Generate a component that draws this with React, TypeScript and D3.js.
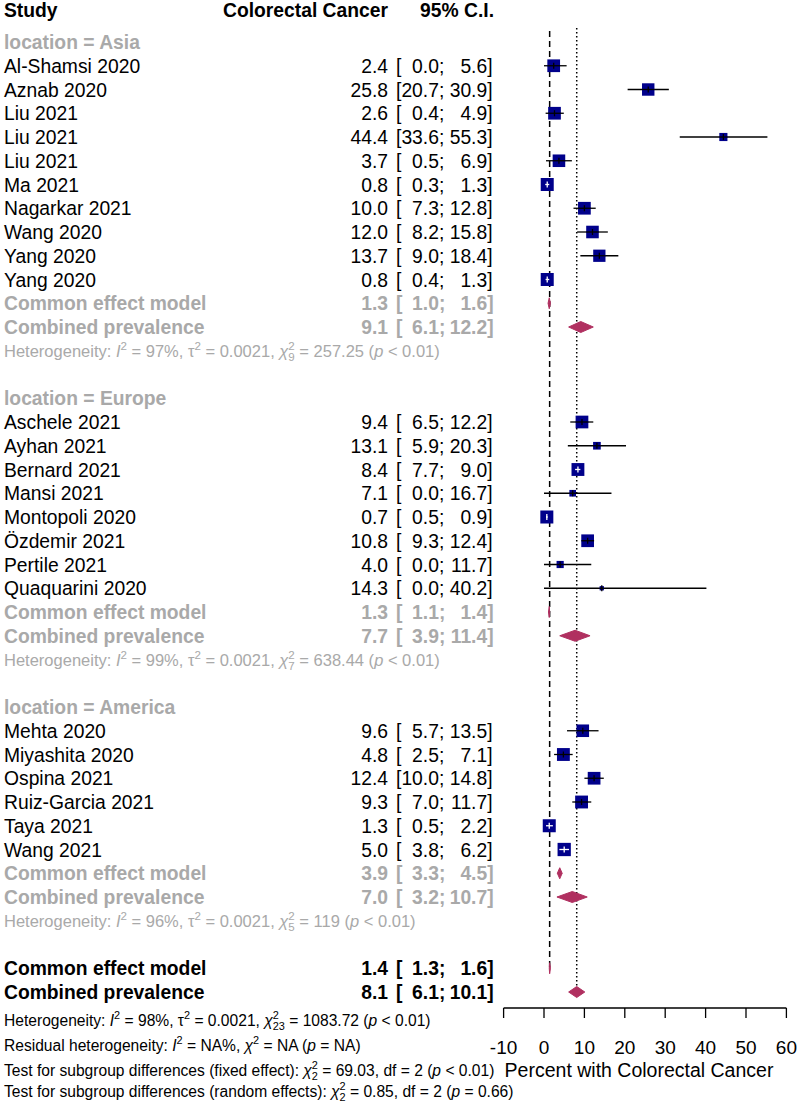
import React from 'react';
import * as d3 from 'd3';

// Forest plot: prevalence of colorectal cancer by location

const groupNames = ['Asia', 'Europe', 'America'];

const asiaStudies = ['Al-Shamsi 2020', 'Aznab 2020', 'Liu 2021', 'Liu 2021', 'Liu 2021', 'Ma 2021', 'Nagarkar 2021', 'Wang 2020', 'Yang 2020', 'Yang 2020'];
const asiaEst = [2.4, 25.8, 2.6, 44.4, 3.7, 0.8, 10.0, 12.0, 13.7, 0.8];
const asiaLower = [0.0, 20.7, 0.4, 33.6, 0.5, 0.3, 7.3, 8.2, 9.0, 0.4];
const asiaUpper = [5.6, 30.9, 4.9, 55.3, 6.9, 1.3, 12.8, 15.8, 18.4, 1.3];
const asiaWeight = [4.4, 4.2, 4.4, 1.8, 4.3, 4.6, 4.4, 4.3, 4.1, 4.6];

const europeStudies = ['Aschele 2021', 'Ayhan 2021', 'Bernard 2021', 'Mansi 2021', 'Montopoli 2020', 'Özdemir 2021', 'Pertile 2021', 'Quaquarini 2020'];
const europeEst = [9.4, 13.1, 8.4, 7.1, 0.7, 10.8, 4.0, 14.3];
const europeLower = [6.5, 5.9, 7.7, 0.0, 0.5, 9.3, 0.0, 0.0];
const europeUpper = [12.2, 20.3, 9.0, 16.7, 0.9, 12.4, 11.7, 40.2];
const europeWeight = [4.4, 1.6, 4.5, 1.2, 4.6, 4.4, 1.4, 0.5];

const americaStudies = ['Mehta 2020', 'Miyashita 2020', 'Ospina 2021', 'Ruiz-Garcia 2021', 'Taya 2021', 'Wang 2021'];
const americaEst = [9.6, 4.8, 12.4, 9.3, 1.3, 5.0];
const americaLower = [5.7, 2.5, 10.0, 7.0, 0.5, 3.8];
const americaUpper = [13.5, 7.1, 14.8, 11.7, 2.2, 6.2];
const americaWeight = [4.3, 4.5, 4.4, 4.5, 4.6, 4.8];

const commonEst = [1.3, 1.3, 3.9];
const commonLower = [1.0, 1.1, 3.3];
const commonUpper = [1.6, 1.4, 4.5];
const randomEst = [9.1, 7.7, 7.0];
const randomLower = [6.1, 3.9, 3.2];
const randomUpper = [12.2, 11.4, 10.7];

const hetI2 = ['97', '99', '96'];
const hetTau2 = ['0.0021', '0.0021', '0.0021'];
const hetDf = ['9', '7', '5'];
const hetQ = ['257.25', '638.44', '119'];
const hetP = ['< 0.01', '< 0.01', '< 0.01'];

const overallCommon = [1.4, 1.3, 1.6];
const overallRandom = [8.1, 6.1, 10.1];
const overallHet = ['98', '0.0021', '23', '1083.72', '< 0.01'];
const subgroupFixed = ['2', '69.03', '2', '< 0.01'];
const subgroupRandom = ['2', '0.85', '2', '= 0.66'];

const tickValues = [-10, 0, 10, 20, 30, 40, 50, 60];

const FONT = "'Liberation Sans', Arial, Helvetica, sans-serif";
const GREY = '#a9a9a9';
const NAVY = '#00008b';
const MAROON = '#b03060';

const W = 797;
const H = 1104;
const FS = 19.3;
const SMALL_FS = 15.6;

const x = d3.scaleLinear().domain([-10, 60]).range([503.6, 786.4]);
const side = d3.scaleSqrt().domain([0, 4.6]).range([0, 13]);
const base = (row) => 49 + 23.75 * row; // text baseline of a row
const mid = (row) => base(row) - 7; // marker centre of a row

const estX = 388;
const ciX0 = 396;
const ciXL = ciX0 + (0.278 + 1.946) * FS;
const ciXU = ciXL + (0.278 + 0.278 + 1.946) * FS;

const groups = [
  { studies: asiaStudies, est: asiaEst, lo: asiaLower, hi: asiaUpper, w: asiaWeight },
  { studies: europeStudies, est: europeEst, lo: europeLower, hi: europeUpper, w: europeWeight },
  { studies: americaStudies, est: americaEst, lo: americaLower, hi: americaUpper, w: americaWeight },
];

// lay the rows out top to bottom
const rows = [];
let r = 0;
groups.forEach((g, gi) => {
  rows.push({ kind: 'loc', row: r++, label: `location = ${groupNames[gi]}` });
  g.studies.forEach((s, i) => {
    rows.push({ kind: 'study', row: r++, label: s, est: g.est[i], lo: g.lo[i], hi: g.hi[i], w: g.w[i] });
  });
  rows.push({ kind: 'pooled', row: r++, label: 'Common effect model', est: commonEst[gi], lo: commonLower[gi], hi: commonUpper[gi], color: GREY });
  rows.push({ kind: 'pooled', row: r++, label: 'Combined prevalence', est: randomEst[gi], lo: randomLower[gi], hi: randomUpper[gi], color: GREY });
  rows.push({ kind: 'het', row: r++, gi });
  r++;
});
const overallCommonRow = r;
rows.push({ kind: 'pooled', row: r++, label: 'Common effect model', est: overallCommon[0], lo: overallCommon[1], hi: overallCommon[2], color: '#000' });
const overallRandomRow = r;
rows.push({ kind: 'pooled', row: r++, label: 'Combined prevalence', est: overallRandom[0], lo: overallRandom[1], hi: overallRandom[2], color: '#000' });

const hetTokens = (label, i2, tau2, df, q, p) => [
  { t: `${label}: ` }, { i: 'I' }, { sup: '2' }, { t: ` = ${i2}%, ` },
  ...(tau2 ? [{ t: 'τ' }, { sup: '2' }, { t: ` = ${tau2}, ` }] : []),
  { i: 'χ' }, { sup: '2', sub: df }, { t: ` = ${q} (` }, { i: 'p' }, { t: ` ${p})` },
];

const testTokens = (label, s) => [
  { t: `${label}: ` }, { i: 'χ' }, { sup: '2', sub: s[0] }, { t: ` = ${s[1]}, df = ${s[2]} (` }, { i: 'p' }, { t: ` ${s[3]})` },
];

const Rich = ({ tokens, x0, y, fs, fill }) => {
  let off = 0;
  const small = fs * 0.7;
  const out = [];
  tokens.forEach((tk, i) => {
    if (tk.sup !== undefined) {
      const up = -0.42 * fs;
      out.push(<tspan key={i + 'a'} dy={up - off} fontSize={small}>{tk.sup}</tspan>);
      off = up;
      if (tk.sub) {
        const dn = 0.28 * fs;
        out.push(<tspan key={i + 'b'} dx={-0.556 * small * tk.sup.length} dy={dn - off} fontSize={small}>{tk.sub}</tspan>);
        off = dn;
      }
    } else {
      out.push(<tspan key={i} dy={-off} fontStyle={tk.i ? 'italic' : undefined}>{tk.t ?? tk.i}</tspan>);
      off = 0;
    }
  });
  return (
    <text x={x0} y={y} fontSize={fs} fill={fill} style={{ whiteSpace: 'pre' }}>{out}</text>
  );
};

const CI = ({ lo, hi, y, fill, weight }) => (
  <g fill={fill} fontWeight={weight} fontSize={FS}>
    <text x={ciX0} y={y}>[</text>
    <text x={ciXL} y={y} textAnchor="end">{lo.toFixed(1)}</text>
    <text x={ciXL} y={y}>;</text>
    <text x={ciXU} y={y} textAnchor="end">{hi.toFixed(1)}</text>
    <text x={ciXU} y={y}>]</text>
  </g>
);

const Study = ({ d }) => {
  const cy = mid(d.row);
  const cx = x(d.est);
  const s = side(d.w);
  const l = x(d.lo);
  const h = x(d.hi);
  const inside = l >= cx - s / 2 && h <= cx + s / 2;
  const inner = inside ? '#fff' : '#000';
  return (
    <g>
      <line x1={l} x2={h} y1={cy} y2={cy} stroke="#000" strokeWidth={1.3} />
      <rect x={cx - s / 2} y={cy - s / 2} width={s} height={s} fill={NAVY} />
      <line x1={Math.max(l, cx - s / 2)} x2={Math.min(h, cx + s / 2)} y1={cy} y2={cy} stroke={inner} strokeWidth={1.3} />
      <line x1={cx} x2={cx} y1={cy - 3} y2={cy + 3} stroke={inner} strokeWidth={1.3} />
    </g>
  );
};

const Diamond = ({ d }) => {
  const cy = mid(d.row);
  const hh = 5.5;
  const p = `M${x(d.lo)},${cy}L${x(d.est)},${cy - hh}L${x(d.hi)},${cy}L${x(d.est)},${cy + hh}Z`;
  return <path d={p} fill={MAROON} stroke={MAROON} strokeWidth={1} />;
};

export default function App() {
  const axisY = 1008;
  return (
    <svg width={W} height={H} fontFamily={FONT} style={{ position: 'absolute', left: 0, top: 0, display: 'block', background: '#fff' }}>
      {/* header */}
      <g fontWeight="bold" fontSize={FS} fill="#000">
        <text x={4} y={17}>Study</text>
        <text x={estX} y={17} textAnchor="end">Colorectal Cancer</text>
        <text x={494} y={17} textAnchor="end">95% C.I.</text>
      </g>

      {/* reference lines */}
      <line x1={x(overallCommon[0])} x2={x(overallCommon[0])} y1={31} y2={mid(overallCommonRow)} stroke="#000" strokeWidth={1.5} strokeDasharray="6,4" />
      <line x1={x(overallRandom[0])} x2={x(overallRandom[0])} y1={28} y2={mid(overallRandomRow) - 5} stroke="#000" strokeWidth={1.5} strokeDasharray="1.5,2.5" />

      {rows.map((d, i) => {
        if (d.kind === 'loc') {
          return <text key={i} x={4} y={base(d.row)} fontSize={FS} fontWeight="bold" fill={GREY}>{d.label}</text>;
        }
        if (d.kind === 'study') {
          return (
            <g key={i}>
              <text x={4} y={base(d.row)} fontSize={FS} fill="#000">{d.label}</text>
              <text x={estX} y={base(d.row)} fontSize={FS} fill="#000" textAnchor="end">{d.est.toFixed(1)}</text>
              <CI lo={d.lo} hi={d.hi} y={base(d.row)} fill="#000" />
              <Study d={d} />
            </g>
          );
        }
        if (d.kind === 'pooled') {
          return (
            <g key={i}>
              <text x={4} y={base(d.row)} fontSize={FS} fontWeight="bold" fill={d.color}>{d.label}</text>
              <text x={estX} y={base(d.row)} fontSize={FS} fontWeight="bold" fill={d.color} textAnchor="end">{d.est.toFixed(1)}</text>
              <CI lo={d.lo} hi={d.hi} y={base(d.row)} fill={d.color} weight="bold" />
              <Diamond d={d} />
            </g>
          );
        }
        if (d.kind === 'het') {
          const g = d.gi;
          return <Rich key={i} tokens={hetTokens('Heterogeneity', hetI2[g], hetTau2[g], hetDf[g], hetQ[g], hetP[g])} x0={4} y={base(d.row) - 1} fs={16.5} fill={GREY} />;
        }
        return null;
      })}

      {/* overall statistics */}
      <Rich tokens={hetTokens('Heterogeneity', ...overallHet)} x0={4} y={1026} fs={SMALL_FS} fill="#000" />
      <Rich tokens={[{ t: 'Residual heterogeneity: ' }, { i: 'I' }, { sup: '2' }, { t: ' = NA%, ' }, { i: 'χ' }, { sup: '2' }, { t: ' = NA (' }, { i: 'p' }, { t: ' = NA)' }]} x0={4} y={1051} fs={SMALL_FS} fill="#000" />
      <Rich tokens={testTokens('Test for subgroup differences (fixed effect)', subgroupFixed)} x0={4} y={1076} fs={SMALL_FS} fill="#000" />
      <Rich tokens={testTokens('Test for subgroup differences (random effects)', subgroupRandom)} x0={4} y={1097} fs={SMALL_FS} fill="#000" />

      {/* x axis */}
      <g stroke="#000" strokeWidth={1.3}>
        <line x1={x(tickValues[0])} x2={x(tickValues[tickValues.length - 1])} y1={axisY} y2={axisY} />
        {tickValues.map((t) => (
          <line key={t} x1={x(t)} x2={x(t)} y1={axisY} y2={axisY + 10} />
        ))}
      </g>
      <g fontSize={19} fill="#000" textAnchor="middle">
        {tickValues.map((t) => (
          <text key={t} x={x(t)} y={1054}>{t}</text>
        ))}
        <text x={639} y={1077} fontSize={19.5}>Percent with Colorectal Cancer</text>
      </g>
    </svg>
  );
}
